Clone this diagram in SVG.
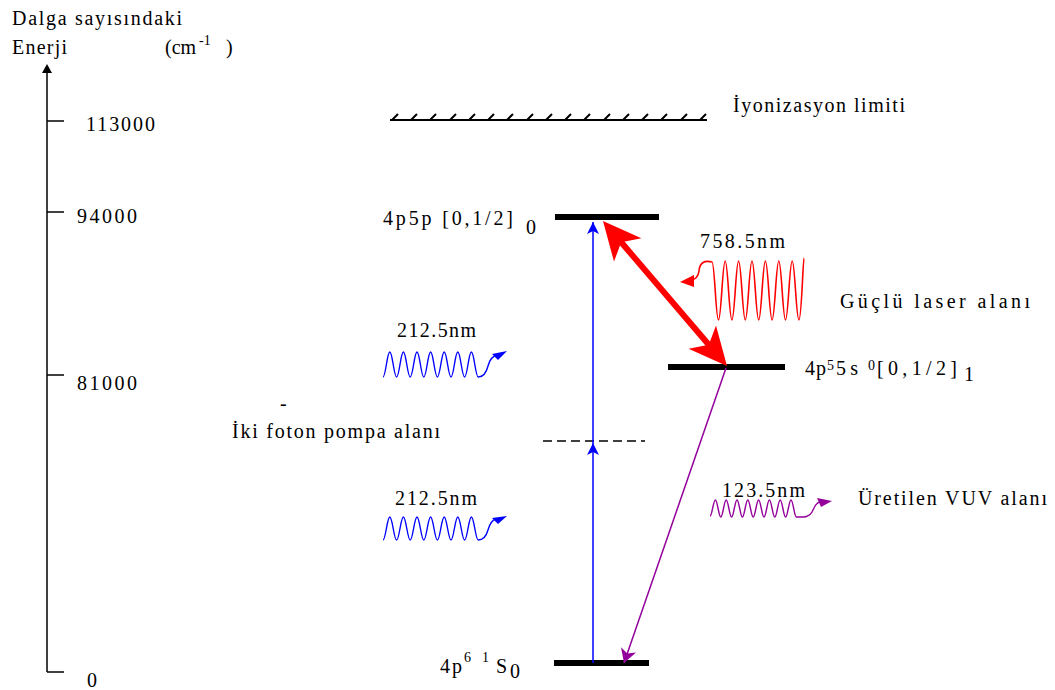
<svg xmlns="http://www.w3.org/2000/svg" width="1055" height="690" viewBox="0 0 1055 690">
<style>
.t{font-family:"Liberation Serif","Times New Roman",serif;font-size:20px;fill:#000}
.s{font-size:14px}
.ax{stroke:#000;stroke-width:1.5;fill:none}
.lvl{fill:#000}
.bw{stroke:#0000ff;stroke-width:1.4;fill:none}
.rw{stroke:#ff0000;stroke-width:1.6;fill:none}
.pw{stroke:#93009b;stroke-width:1.4;fill:none}
</style>
<defs>
<marker id="bh" markerWidth="12" markerHeight="12" refX="12" refY="6" orient="auto" markerUnits="userSpaceOnUse"><path d="M0,0 L12,6 L0,12 L3,6 z" fill="#0000ff"/></marker>
<marker id="ph" markerWidth="14" markerHeight="16" refX="14" refY="8" orient="auto" markerUnits="userSpaceOnUse"><path d="M0,0 L14,8 L0,16 L4,8 z" fill="#93009b"/></marker>
</defs>
<rect width="1055" height="690" fill="#fff"/>

<g id="axis">
<line class="ax" x1="47" y1="72" x2="47" y2="672"/>
<polygon points="47,64 42,73 52,73" fill="#000"/>
<line class="ax" x1="47" y1="121" x2="64" y2="121"/>
<line class="ax" x1="47" y1="212" x2="64" y2="212"/>
<line class="ax" x1="47" y1="375" x2="64" y2="375"/>
<line class="ax" x1="47" y1="672" x2="64" y2="672"/>
<text class="t" x="86" y="131" textLength="69">113000</text>
<text class="t" x="77" y="223" textLength="60">94000</text>
<text class="t" x="77" y="390" textLength="60">81000</text>
<text class="t" x="87" y="687">0</text>
</g>

<g id="title">
<text class="t" x="12" y="25" textLength="170">Dalga sayısındaki</text>
<text class="t" x="12" y="54" textLength="55">Enerji</text>
<text class="t" x="165" y="54">(cm</text>
<text class="t s" x="199" y="45">-1</text>
<text class="t" x="226" y="54">)</text>
</g>

<g id="ionization-limit">
<line x1="390" y1="120" x2="707" y2="120" stroke="#000" stroke-width="2"/>
<path d="M392 120 l6 -6 M411 120 l6 -6 M430 120 l6 -6 M450 120 l6 -6 M469 120 l6 -6 M488 120 l6 -6 M507 120 l6 -6 M527 120 l6 -6 M546 120 l6 -6 M565 120 l6 -6 M584 120 l6 -6 M604 120 l6 -6 M623 120 l6 -6 M642 120 l6 -6 M661 120 l6 -6 M681 120 l6 -6 M700 120 l6 -6" stroke="#000" stroke-width="2" fill="none"/>
<text class="t" x="733" y="112" textLength="172">İyonizasyon limiti</text>
</g>

<g id="level-4p5p">
<rect class="lvl" x="555" y="214" width="104" height="6"/>
<text class="t" x="383" y="225" textLength="130">4p5p [0,1/2]</text>
<text class="t" x="526" y="234" font-size="17">0</text>
</g>

<g id="level-4p55s">
<rect class="lvl" x="668" y="364" width="117" height="6"/>
<text class="t" x="805" y="375" textLength="21">4p</text>
<text class="t s" x="827" y="370">5</text>
<text class="t" x="836" y="375" textLength="22">5s</text>
<text class="t s" x="868" y="370">0</text>
<text class="t" x="877" y="375" textLength="80">[0,1/2]</text>
<text class="t" x="964" y="381" font-size="15">1</text>
</g>

<g id="level-ground">
<rect class="lvl" x="554" y="660" width="95" height="6"/>
<text class="t" x="440" y="673" textLength="22">4p</text>
<text class="t s" x="464" y="662">6</text>
<text class="t s" x="482" y="662">1</text>
<text class="t" x="496" y="673">S</text>
<text class="t" x="510" y="678" font-size="16">0</text>
</g>

<g id="virtual-level">
<line x1="543" y1="441" x2="645" y2="441" stroke="#000" stroke-width="1.3" stroke-dasharray="9 5"/>
</g>

<g id="pump-field">
<text class="t" x="397" y="337" textLength="79">212.5nm</text>
<path class="bw" d="M383 377 C385.7 377 387.1 352 389.8 352 S393.9 377 396.6 377 S400.7 352 403.4 352 S407.5 377 410.2 377 S414.3 352 417 352 S421.1 377 423.8 377 S427.9 352 430.6 352 S434.7 377 437.4 377 S441.5 352 444.2 352 S448.3 377 451 377 S455.1 352 457.8 352 S461.9 377 464.6 377 S468.7 352 471.4 352 S475.5 377 478.2 377 C482 377 486 374 488 366 S493 356 497 355"/>
<polygon points="492,354 507,351 498,360" fill="#0000ff"/>
<text class="t" x="395" y="505" textLength="82">212.5nm</text>
<path class="bw" d="M383 540 C385.7 540 387.1 517 389.8 517 S393.9 540 396.6 540 S400.7 517 403.4 517 S407.5 540 410.2 540 S414.3 517 417 517 S421.1 540 423.8 540 S427.9 517 430.6 517 S434.7 540 437.4 540 S441.5 517 444.2 517 S448.3 540 451 540 S455.1 517 457.8 517 S461.9 540 464.6 540 S468.7 517 471.4 517 S475.5 540 478.2 540 C482 540 486 537 488 530 S492 520 496 519"/>
<polygon points="492,518 507,516 498,524" fill="#0000ff"/>
<text class="t" x="280" y="410" font-size="14">-</text>
<text class="t" x="232" y="438" textLength="208">İki foton pompa alanı</text>
</g>

<g id="laser-field">
<text class="t" x="700" y="248" textLength="85">758.5nm</text>
<path class="rw" d="M712 262 C714.7 262 715.8 320 718.5 320 S722.5 261 725.2 261 S729.2 320 731.9 320 S735.9 261 738.6 261 S742.6 320 745.3 320 S749.3 261 752 261 S756 320 758.7 320 S762.7 261 765.4 261 S769.4 320 772.1 320 S776.1 261 778.8 261 S782.8 320 785.5 320 S789.5 261 792.2 261 S796.2 320 798.9 320 S803 258 804 258"/>
<path class="rw" d="M712 262 Q700 259 699 271 Q698 279 691 280"/>
<polygon points="680,282 694,275 694,287" fill="#ff0000"/>
<text class="t" x="840" y="308" textLength="190">Güçlü laser alanı</text>
</g>

<g id="vuv-field">
<text class="t" x="722" y="497" textLength="83">123.5nm</text>
<path class="pw" d="M710 516 C712.1 516 713.3 500 715.4 500 S718.7 517 720.8 517 S724.1 500 726.2 500 S729.5 517 731.6 517 S734.9 500 737 500 S740.3 517 742.4 517 S745.7 500 747.8 500 S751.1 517 753.2 517 S756.5 500 758.6 500 S761.9 517 764 517 S767.3 500 769.4 500 S772.7 517 774.8 517 S778.1 500 780.2 500 S783.5 517 785.6 517 S788.9 500 791 500 S794.3 517 796.4 517 C803 517 809 518 812 512 S816 503 820 502"/>
<polygon points="817,498 832,501 821,507" fill="#93009b"/>
<text class="t" x="858" y="505" textLength="189">Üretilen VUV alanı</text>
</g>

<g id="connectors">
<line x1="593" y1="663" x2="593" y2="443" stroke="#0000ff" stroke-width="1.5" marker-end="url(#bh)"/>
<line x1="593" y1="443" x2="593" y2="222" stroke="#0000ff" stroke-width="1.5" marker-end="url(#bh)"/>
<line x1="621" y1="242" x2="709" y2="345" stroke="#ff0000" stroke-width="6"/>
<polygon points="603,221 641.4,238.2 621.2,242.3 614,261.6" fill="#ff0000"/>
<polygon points="727,366 716,325.4 708.8,344.7 688.6,348.8" fill="#ff0000"/>
<line x1="726" y1="368" x2="624" y2="663" stroke="#93009b" stroke-width="1.5" marker-end="url(#ph)"/>
</g>
</svg>
